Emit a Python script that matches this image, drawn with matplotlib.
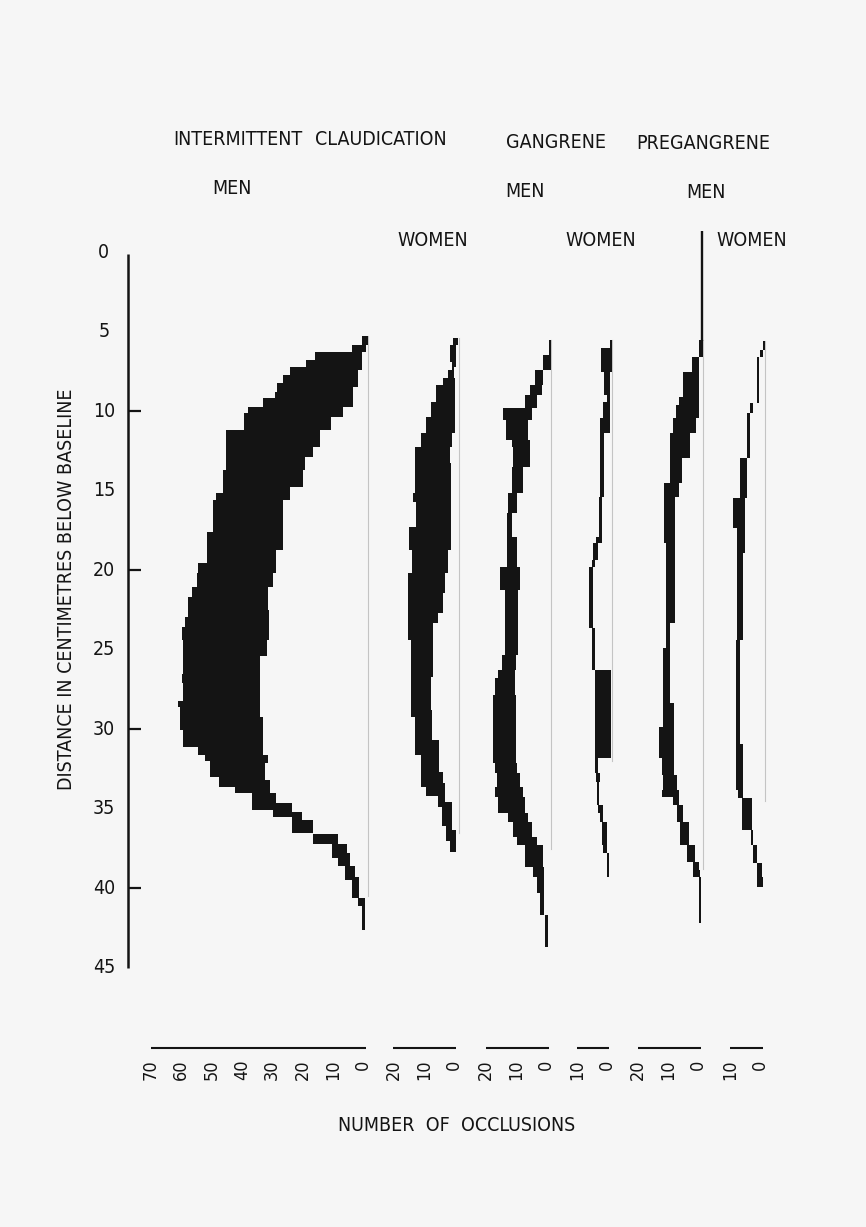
import numpy as np
import matplotlib
matplotlib.use("Agg")
import matplotlib.pyplot as plt
from matplotlib import font_manager as fm

# ---------------- data (occlusion counts vs depth in cm) ----------------
# Each profile: outer edge (left) and inner edge (right) as step functions.
icm_od = [5.3, 5.85, 6.27, 6.79, 7.21, 7.73, 8.25, 8.78, 9.2, 9.72, 10.14, 11.19, 13.7, 15.17, 15.59,
          17.58, 19.57, 20.2, 21.03, 21.66, 22.92, 23.55, 24.39, 26.5, 27.1, 28.2, 28.6, 30.05, 31.1,
          31.6, 32.0, 33.0, 33.6, 34.0, 35.1, 35.5, 36.5, 37.2, 38.1, 38.6, 39.5, 40.6, 41.1]
icm_ov = [2, 5.4, 17.5, 20.5, 25.7, 28, 30, 30.7, 34.6, 39.7, 41, 46.9, 47.9, 50, 51,
          53, 56, 56.5, 58.2, 59.4, 60.4, 61.5, 61, 61.5, 61, 62.8, 62, 61, 56,
          53.8, 52.1, 49.1, 43.9, 38.4, 31.3, 25.2, 18, 11.8, 9.9, 7.6, 5.4, 3.2, 2.1]
icm_id = [5.3, 5.85, 6.27, 7.42, 8.47, 9.72, 10.35, 11.19, 12.23, 12.86, 13.7, 14.75, 15.59, 16.63,
          18.73, 20.2, 21.03, 22.5, 24.39, 25.4, 29.2, 31.6, 32.1, 33.2, 34.0, 34.66, 35.17, 35.7,
          36.6, 37.2, 37.8, 38.6, 39.3, 40.6]
icm_iv = [0, 0.5, 2, 3.2, 4.8, 8.3, 12.3, 15.8, 18.3, 20.8, 21.3, 25.7, 28, 28.2,
          30.2, 31.2, 32.9, 32.6, 33.4, 35.6, 34.8, 32.9, 34, 32.3, 30.2, 25.2, 21.9, 18,
          9.8, 7, 5.9, 4.3, 2.9, 1]
icm_end = 42.6

icw_od = [5.42, 5.85, 6.89, 7.42, 7.94, 8.36, 9.41, 10.35, 11.4, 12.23, 15.17, 15.69, 17.26, 18.73,
          20.2, 24.39, 29.2, 31.6, 33.6, 34.2, 34.9, 36.1, 37.0]
icw_ov = [2, 3, 2.4, 3.5, 5.4, 7.4, 9.3, 10.7, 12.6, 14.5, 15, 14.2, 16.4, 15.6,
          16.9, 15.9, 14.5, 12.6, 10.7, 6.8, 5.7, 4.1, 3]
icw_id = [5.42, 5.85, 7.21, 7.94, 11.4, 12.23, 13.28, 18.73, 20.2, 21.45, 22.71, 23.34, 24.39, 26.7,
          28.8, 30.7, 32.7, 33.4, 34.6, 36.3]
icw_iv = [0.3, 1, 1.6, 1.3, 2.4, 3, 2.7, 3.5, 4.6, 5.2, 6.8, 8.5, 8.7, 9.3,
          9, 6.5, 5.4, 4.6, 2.4, 0.8]
icw_end = 37.7

gm_od = [5.52, 6.47, 7.42, 8.36, 8.99, 9.83, 10.56, 11.82, 12.23, 13.5, 15.17, 16.42, 19.78, 21.24,
         25.33, 26.27, 26.8, 27.84, 32.14, 32.77, 33.6, 34.24, 35.28, 35.81, 36.75, 37.28, 38.64,
         39.27, 40.32, 41.68]
gm_ov = [0.7, 2.5, 5.3, 6.9, 8.6, 15.7, 14.8, 13, 12.4, 13, 14.1, 14.6, 17, 15.2,
         16.3, 17.4, 18.5, 19.2, 18.5, 17.8, 18.5, 17.4, 14.1, 12.4, 11.3, 8.6, 5.8,
         4.7, 3.6, 2.0]
gm_id = [5.52, 7.42, 8.36, 8.99, 9.83, 10.56, 11.82, 13.5, 15.17, 16.42, 17.89, 19.78, 21.24, 25.33,
         26.27, 27.84, 32.14, 32.77, 33.6, 34.24, 35.28, 35.81, 36.75, 37.28, 38.64, 41.68]
gm_iv = [0, 2.5, 3.1, 4.7, 6.4, 7.5, 7, 9.1, 11.3, 13, 11.3, 10.2, 10.8, 11.6,
         11.9, 11.6, 11.3, 10.2, 9.3, 8.6, 7.5, 6.4, 4.7, 2.7, 2.4, 1.0]
gm_end = 43.66

gw_od = [5.53, 6.05, 7.52, 8.99, 9.41, 10.45, 15.38, 17.89, 18.31, 19.36, 19.78, 23.65, 26.27,
         32.77, 33.3, 34.76, 35.28, 35.8, 37.27, 37.8]
gw_ov = [0.7, 3.6, 2.5, 1.7, 2.9, 4, 4.3, 5.3, 6.2, 6.7, 7.5, 6.7, 5.6,
         5.3, 5, 4.5, 4, 3.4, 2.9, 1.7]
gw_id = [5.53, 7.52, 11.4, 15.38, 18.31, 19.36, 19.78, 23.65, 26.27, 31.82, 32.77, 33.3, 34.76,
         35.8, 37.8]
gw_iv = [0, 0.7, 2.5, 3.4, 4.5, 5.6, 6.2, 5.6, 0.4, 4.5, 4, 4.2, 2.9, 1.7, 0.9]
gw_end = 39.27

pm_od = [5.53, 6.58, 7.52, 9.1, 9.62, 10.45, 11.4, 14.54, 18.31, 24.9, 29.83, 31.82, 32.88, 33.81,
         34.24, 34.76, 35.81, 37.27, 38.32, 39.27]
pm_ov = [1.5, 3.7, 6.7, 7.8, 8.9, 9.8, 10.9, 12.9, 12.2, 13.3, 14.4, 13.6, 13.1, 13.6,
         9.8, 8.7, 7.6, 5.4, 3.4, 1.5]
pm_id = [5.53, 6.58, 10.45, 11.4, 12.97, 14.54, 15.38, 23.34, 28.37, 32.88, 33.81, 34.76, 35.81,
         37.27, 38.32, 38.84, 39.27]
pm_iv = [0, 1.2, 2.3, 4.3, 7, 8.1, 9.2, 10.8, 9.6, 8.7, 7.8, 6.7, 4.8, 2.6, 1.5, 1.0, 0.8]
pm_end = 42.2

pw_od = [5.6, 6.16, 6.58, 9.52, 10.14, 12.97, 15.48, 17.37, 24.4, 33.8, 34.3, 36.3, 37.3, 38.4]
pw_ov = [0.8, 1.7, 2.7, 5, 5.8, 8.3, 10.5, 9.3, 9.6, 8.8, 7.7, 4.7, 4.1, 2.7]
pw_id = [5.6, 6.16, 6.58, 9.52, 10.14, 12.97, 15.48, 18.94, 24.4, 30.9, 33.8, 34.3, 36.3, 37.3,
         38.4, 39.27]
pw_iv = [0, 0.5, 1.9, 4, 5, 6, 6.6, 7.2, 8.3, 7.4, 7.2, 4.4, 3.9, 2.7, 1.1, 0.6]
pw_end = 39.9

scale_max = [70, 20, 20, 10, 20, 10]
depth_labels = [0, 5, 10, 15, 20, 25, 30, 35, 40, 45]
depth_ticks = [10, 20, 30, 40]

# ---------------- layout ----------------
W, H, DPI = 866, 1227, 100
PX_PER_UNIT = 3.03            # horizontal px per occlusion
PX_PER_CM = 15.91             # vertical px per cm
X0_PX, Y0_PX = 368, 252       # pixel of IC-men zero / depth 0

group_zero = [0.0, 30.0, 60.4, 80.5, 110.6, 131.0]
label_shift = -1.6

INK = "#141414"
BG = "#f6f6f6"
GREY = "#c4c4c4"

# pick a condensed sans if one is installed
entries = fm.fontManager.ttflist
names = {f.name for f in entries}
dejavu_cond = any(f.name == "DejaVu Sans" and "condensed" in str(f.stretch) for f in entries)
if "Liberation Sans Narrow" in names:
    FONT, STRETCH, FS = "Liberation Sans Narrow", "normal", 15.5
elif dejavu_cond:
    FONT, STRETCH, FS = "DejaVu Sans", "condensed", 14.0
else:
    FONT, STRETCH, FS = "Liberation Sans", "normal", 12.8
plt.rcParams["font.family"] = [FONT, "DejaVu Sans"]
plt.rcParams["font.stretch"] = STRETCH

fig = plt.figure(figsize=(W / DPI, H / DPI), dpi=DPI, facecolor=BG)
ax = fig.add_axes([0, 0, 1, 1], facecolor=BG)
ax.set_xlim(-X0_PX / PX_PER_UNIT, (W - X0_PX) / PX_PER_UNIT)
ax.set_ylim((H - Y0_PX) / PX_PER_CM, -Y0_PX / PX_PER_CM)
ax.axis("off")


def merged(od, ov, idp, iv, end):
    od, ov, idp, iv = map(np.asarray, (od, ov, idp, iv))
    d = np.unique(np.concatenate([od, idp]))
    d = d[d < end]
    o = ov[np.searchsorted(od, d, side="right") - 1]
    k = np.searchsorted(idp, d, side="right") - 1
    inn = np.where(k >= 0, iv[np.clip(k, 0, None)], 0.0)
    return np.append(d, end), np.append(o, o[-1]), np.append(inn, inn[-1])


profiles = [
    (icm_od, icm_ov, icm_id, icm_iv, icm_end),
    (icw_od, icw_ov, icw_id, icw_iv, icw_end),
    (gm_od, gm_ov, gm_id, gm_iv, gm_end),
    (gw_od, gw_ov, gw_id, gw_iv, gw_end),
    (pm_od, pm_ov, pm_id, pm_iv, pm_end),
    (pw_od, pw_ov, pw_id, pw_iv, pw_end),
]
grey_extent = [(5.3, 40.5), (5.4, 36.5), (5.5, 37.5), (5.5, 32.0), (5.5, 38.8), (5.6, 34.5)]

for z, prof, (g0, g1) in zip(group_zero, profiles, grey_extent):
    ax.plot([z, z], [g0, g1], color=GREY, lw=0.8, zorder=1)
    dd, o, inn = merged(*prof)
    ax.fill_betweenx(dd, z - o, z - inn, step="post", color=INK, lw=0, zorder=2)

# vertical stem above pregangrene men
ax.plot([group_zero[4] - 0.3] * 2, [-1.3, 5.6], color=INK, lw=1.7, solid_capstyle="butt", zorder=3)

# ---------------- depth axis ----------------
yax_x = -79.2
ax.plot([yax_x, yax_x], [0.1, 45], color=INK, lw=1.8, solid_capstyle="butt")
for t in depth_ticks:
    ax.plot([yax_x, yax_x + 4.4], [t, t], color=INK, lw=1.6, solid_capstyle="butt")
for t in depth_labels:
    ax.text(yax_x - 8.0, t, str(t), ha="center", va="center", fontsize=FS, color=INK)
ax.text(-99.5, 21.2, "DISTANCE IN CENTIMETRES BELOW BASELINE", rotation=90,
        ha="center", va="center", fontsize=FS, color=INK)

# ---------------- headers ----------------
hdr = dict(ha="left", va="center", fontsize=FS, color=INK)
ax.text(-64.4, -7.1, "INTERMITTENT", **hdr)
ax.text(-17.5, -7.1, "CLAUDICATION", **hdr)
ax.text(45.5, -6.9, "GANGRENE", **hdr)
ax.text(88.4, -6.8, "PREGANGRENE", **hdr)
ax.text(-51.5, -3.96, "MEN", **hdr)
ax.text(45.2, -3.83, "MEN", **hdr)
ax.text(105.0, -3.77, "MEN", **hdr)
ax.text(9.6, -0.75, "WOMEN", **hdr)
ax.text(65.0, -0.75, "WOMEN", **hdr)
ax.text(114.9, -0.75, "WOMEN", **hdr)

# ---------------- occlusion scales ----------------
bar_y = 50.0
for z, m in zip(group_zero, scale_max):
    s0 = z + label_shift
    ax.plot([s0 - m, s0 + 0.8], [bar_y, bar_y], color=INK, lw=1.5, solid_capstyle="butt")
    for v in range(0, m + 1, 10):
        ax.text(s0 - v, bar_y + 0.75, str(v), rotation=90, ha="center", va="top",
                fontsize=FS - 1, color=INK)
ax.text(29.4, 54.9, "NUMBER  OF  OCCLUSIONS", ha="center", va="center", fontsize=FS, color=INK)

fig.savefig("out.png", dpi=DPI, facecolor=BG)
